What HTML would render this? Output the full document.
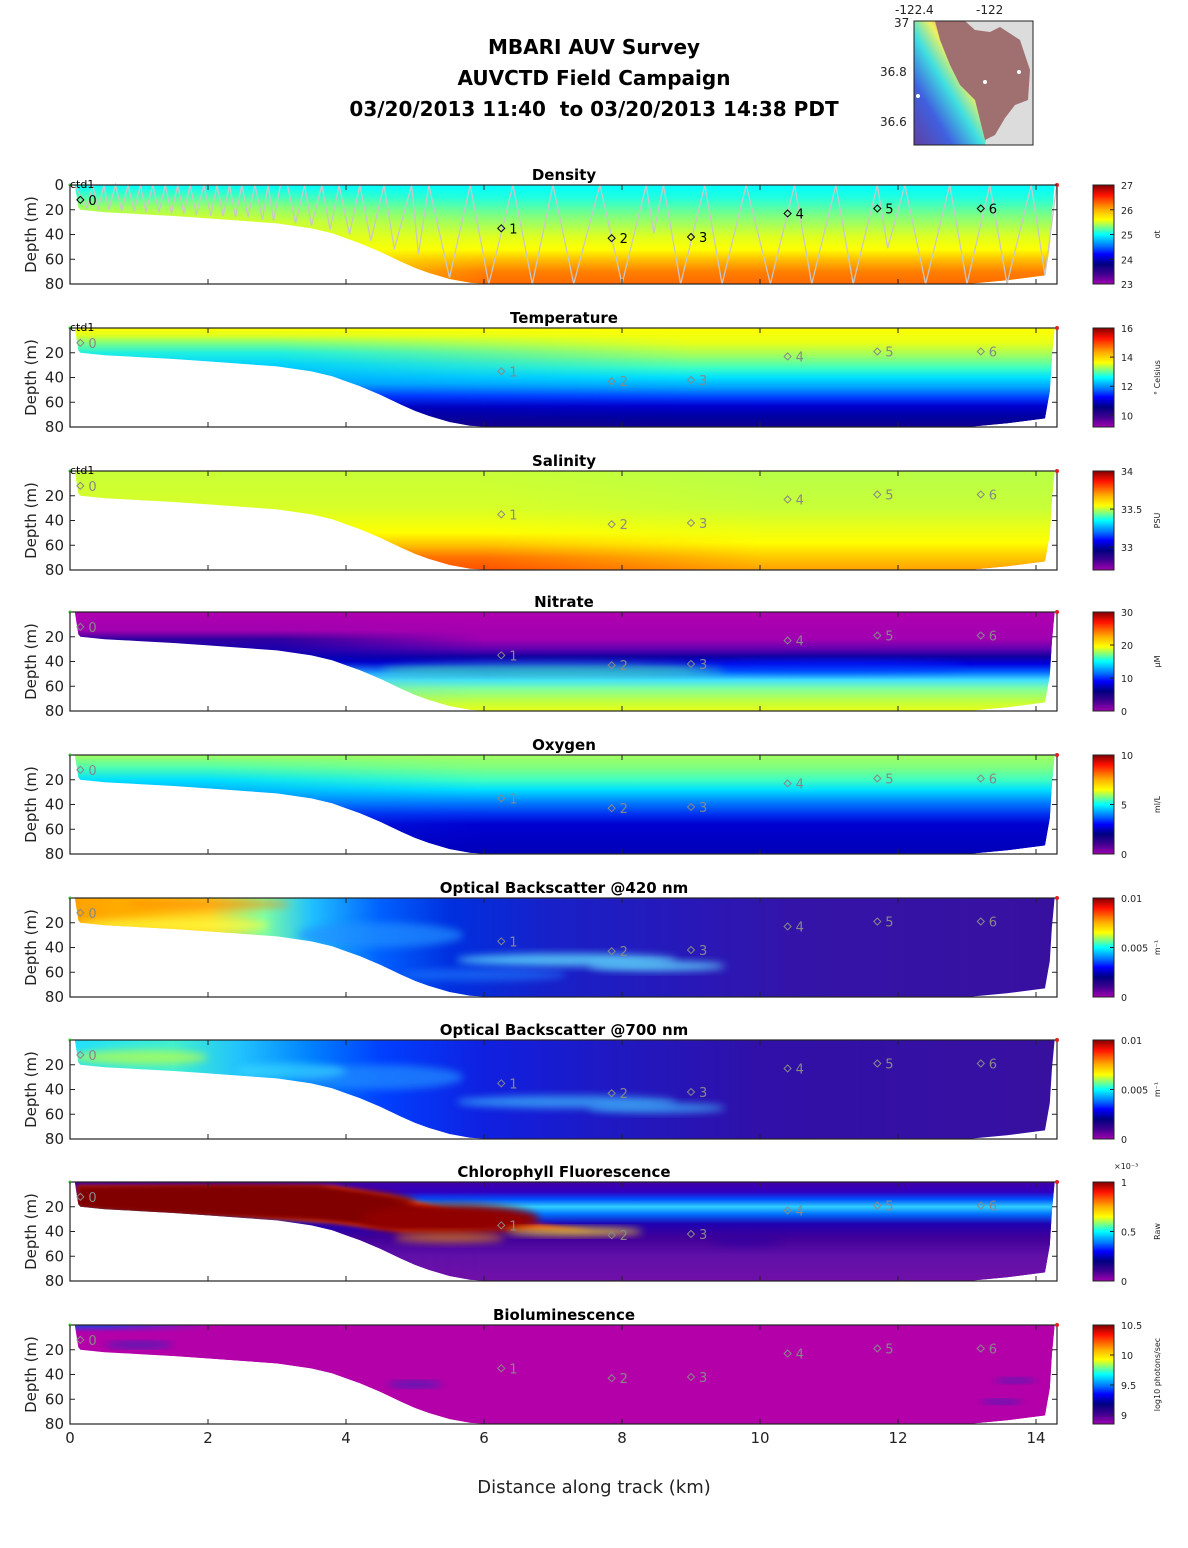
<!DOCTYPE html>
<html><head><meta charset="utf-8"><style>
body{margin:0;background:#fff;}
svg{display:block;font-family:"DejaVu Sans","Liberation Sans",sans-serif;}
</style></head><body>
<svg id="fig" xmlns="http://www.w3.org/2000/svg" width="1188" height="1548" viewBox="0 0 1188 1548">
<defs>
<filter id="blur" x="-50%" y="-50%" width="200%" height="200%"><feGaussianBlur stdDeviation="4"/></filter>
<filter id="blur2" x="-50%" y="-50%" width="200%" height="200%"><feGaussianBlur stdDeviation="2"/></filter>
<linearGradient id="cbar" x1="0" y1="0" x2="0" y2="1">
<stop offset="0" stop-color="#800000"/><stop offset="0.1" stop-color="#ff1000"/><stop offset="0.25" stop-color="#ffb000"/><stop offset="0.35" stop-color="#ffff00"/><stop offset="0.5" stop-color="#00ffff"/><stop offset="0.62" stop-color="#0070ff"/><stop offset="0.7" stop-color="#0000ff"/><stop offset="0.8" stop-color="#000080"/><stop offset="0.9" stop-color="#400090"/><stop offset="1" stop-color="#a000b0"/>
</linearGradient>
<linearGradient id="mapg" x1="0" y1="1" x2="1" y2="0">
<stop offset="0" stop-color="#6040a0"/><stop offset="0.25" stop-color="#4060e0"/><stop offset="0.45" stop-color="#40e0e0"/><stop offset="0.6" stop-color="#f0f060"/><stop offset="0.75" stop-color="#f06040"/><stop offset="1" stop-color="#a06868"/>
</linearGradient>
</defs>
<g font-weight="bold" font-size="20" text-anchor="middle" fill="#000">
<text x="594" y="54">MBARI AUV Survey</text>
<text x="594" y="85">AUVCTD Field Campaign</text>
<text x="594" y="116" xml:space="preserve">03/20/2013 11:40  to 03/20/2013 14:38 PDT</text>
</g>
<g>
<rect x="914" y="21" width="119" height="124" fill="#dcdcdc"/>
<polygon points="914,21 945,21 960,60 975,85 985,100 990,120 985,145 914,145" fill="url(#mapg)"/>
<polygon points="935,21 965,21 975,30 990,32 1000,27 1020,40 1030,70 1028,100 1015,105 1005,118 995,135 985,140 980,120 975,100 960,85 950,65 940,40" fill="#a07070"/>
<circle cx="1019" cy="72" r="2" fill="#fff"/><circle cx="985" cy="82" r="2" fill="#fff"/><circle cx="918" cy="96" r="2" fill="#fff"/>
<rect x="914" y="21" width="119" height="124" fill="none" stroke="#222" stroke-width="1"/>
<g font-size="12" fill="#222">
<text x="895" y="14">-122.4</text>
<text x="976" y="14">-122</text>
<text x="894" y="27">37</text>
<text x="880" y="76">36.8</text>
<text x="880" y="126">36.6</text>
</g>
</g>
<g id="panels"></g>
<text x="594" y="1493" text-anchor="middle" font-size="18" fill="#222">Distance along track (km)</text>
</svg>
<script>
const NS="http://www.w3.org/2000/svg";
// ---- data ----
const panelTitles=["Density","Temperature","Salinity","Nitrate","Oxygen","Optical Backscatter @420 nm","Optical Backscatter @700 nm","Chlorophyll Fluorescence","Bioluminescence"];
const panelUnits=["σt","° Celsius","PSU","μM","ml/L","m⁻¹","m⁻¹","Raw","log10 photons/sec"];
const xTicks=[0,2,4,6,8,10,12,14];
const bathyKm=[14.27,14.23,14.2,14.13,13.58,13.0,6.1,5.8,5.5,5.2,5.0,4.8,4.5,4.2,4.0,3.8,3.5,3.0,2.5,2.0,1.5,1.0,0.5,0.15,0.12,0.07];
const bathyDepth=[0,24,51,73,77,80,80,79,76,71,67,62,54,47,43,39,35,31,29,27,25,23.5,22,20,18,0];
const stationKm=[0.15,6.25,7.85,9.0,10.4,11.7,13.2];
const stationDepth=[12,35,43,42,23,19,19];
const stationLabel=["0","1","2","3","4","5","6"];
const yoyoKm=[0.07,0.25,0.33,0.41,0.49,0.56,0.66,0.75,0.84,0.93,1.02,1.1,1.2,1.29,1.38,1.47,1.56,1.65,1.74,1.83,1.94,2.04,2.13,2.22,2.31,2.4,2.49,2.58,2.68,2.79,2.87,2.95,3.05,3.15,3.27,3.4,3.5,3.65,3.77,3.9,4.05,4.2,4.36,4.55,4.7,4.95,5.05,5.2,5.5,5.8,6.07,6.42,6.7,7.0,7.3,7.68,8.0,8.35,8.46,8.6,8.85,9.2,9.45,9.8,10.15,10.5,10.75,11.1,11.35,11.7,11.85,12.1,12.4,12.75,13.0,13.33,13.58,13.93,14.13,14.3];
const yoyoDepth=[0,19,0,20,0,20,0,21,0,21,0,22,0,22,0,23,0,23,0,24,0,25,0,25,0,26,0,26,0,28,0,29,0,0,31,0,33,0,36,0,40,0,45,0,52,0,56,0,75,0,80,0,80,0,80,0,80,0,39,0,80,0,80,0,80,0,80,0,80,0,51,0,80,0,80,0,80,0,73,0];
const leftStops=[
 [[0,"#00ffff"],[8,"#40ffc0"],[18,"#a0ff60"],[30,"#e0ff20"],[80,"#ffff00"]],
 [[0,"#ffff00"],[6,"#e0ff20"],[12,"#80ff80"],[20,"#20f0e0"],[30,"#00d0ff"],[45,"#00a0ff"],[55,"#0030ff"],[65,"#0000b0"],[80,"#18008a"]],
 [[0,"#c8ff38"],[30,"#d8ff28"],[50,"#ffff00"],[60,"#ffc000"],[70,"#ff7000"],[80,"#ff5000"]],
 [[0,"#b000b0"],[15,"#a000b0"],[22,"#3000a0"],[40,"#0000c0"],[50,"#40d0ff"],[80,"#e0ff20"]],
 [[0,"#a0ff60"],[10,"#50ffb0"],[20,"#00e0ff"],[38,"#0080ff"],[48,"#0030f0"],[80,"#0000b8"]],
 null,null,
 [[0,"#4000a8"],[8,"#3000c0"],[14,"#0050ff"],[20,"#30d0ff"],[26,"#0070ff"],[34,"#2000b0"],[45,"#400098"],[60,"#6010a8"],[80,"#7010a8"]],
 [[0,"#2040e0"],[6,"#b400a8"],[80,"#b400a8"]]
];
const rightStops=[
 [[0,"#00ffff"],[10,"#20ffe0"],[25,"#80ff80"],[42,"#e0ff20"],[52,"#ffff00"],[60,"#ffc000"],[70,"#ff8000"],[80,"#ff6800"]],
 [[0,"#ffff00"],[12,"#e8ff18"],[22,"#a0ff60"],[32,"#40ffc0"],[40,"#00e0ff"],[48,"#00a0ff"],[56,"#0040ff"],[63,"#0000d0"],[72,"#0000a0"],[80,"#100090"]],
 [[0,"#b8ff48"],[30,"#c8ff38"],[45,"#e8ff18"],[58,"#ffff00"],[68,"#ffd000"],[80,"#ffa000"]],
 [[0,"#b000b0"],[22,"#a000b0"],[30,"#6000b0"],[36,"#1000a0"],[42,"#0000e0"],[48,"#0060ff"],[55,"#40e0ff"],[62,"#80ffa0"],[72,"#c0ff40"],[80,"#e8ff18"]],
 [[0,"#a0ff60"],[10,"#80ff80"],[20,"#40ffc0"],[28,"#00e0ff"],[38,"#0080ff"],[48,"#0030f0"],[56,"#0000d0"],[80,"#0000b8"]],
 null,null,
 [[0,"#4000a8"],[8,"#3000c0"],[14,"#0050ff"],[20,"#30d0ff"],[26,"#0070ff"],[34,"#2000b0"],[45,"#400098"],[60,"#6010a8"],[80,"#7010a8"]],
 [[0,"#b400a8"],[80,"#b400a8"]]
];
const blendKm=[[2,6],[3,9],[6,10],[3,6],[2,6],null,null,[3,6],[0.5,2]];
// horizontal colour stops for backscatter panels: [km, colour]
const obs420Stops=[[0,"#ffa000"],[1.0,"#ffb000"],[2.0,"#ffd020"],[2.8,"#80ffa0"],[3.5,"#20c0ff"],[4.5,"#0060ff"],[5.5,"#0030e0"],[7,"#1820c8"],[9,"#2818b8"],[10.5,"#3414a8"],[14.3,"#3810a0"]];
const obs700Stops=[[0,"#20e0ff"],[1.5,"#40f0d0"],[2.5,"#20c0ff"],[3.5,"#0080ff"],[4.5,"#0040ff"],[6,"#1020e0"],[8,"#2018c0"],[10,"#3010a8"],[14.3,"#3810a0"]];
// blobs
const blobPanel=[5,5,5,5,5,5,6,6,6,6,6,7,7,7,7,7,8,8,8,8,3,3];
const blobKm=[4.5,7.2,8.5,6.0,1.5,2.0,4.5,7.2,8.5,1.0,3.2,2.4,5.5,7.3,5.5,9.8,1.0,5.0,13.7,13.5,7,11];
const blobDepth=[30,50,55,62,22,5,30,50,55,14,25,16,30,40,45,47,16,48,45,62,47,44];
const blobRx=[1.2,1.6,1.0,1.2,1.4,1.2,1.2,1.6,1.0,1.0,0.8,2.6,1.3,1.0,0.8,0.5,0.5,0.4,0.3,0.3,2.5,2.0];
const blobRy=[10,5,4,5,6,4,10,5,4,6,6,12,12,3,4,5,2,2,1.5,1.5,6,5];
const blobColor=["#2090ff","#60e0ff","#60e0ff","#2080ff","#ffff40","#ff8000","#2090ff","#40c0ff","#40c0ff","#c0ff40","#40e0ff","#800000","#900000","#ffe020","#ffa000","#3000a0","#1030c0","#1030c0","#1030c0","#1030c0","#60ffa0","#0030ff"];
const blobOpacity=[0.7,0.8,0.8,0.6,0.7,0.6,0.7,0.7,0.7,0.7,0.6,1,1,0.9,0.6,0.7,0.8,0.8,0.8,0.8,0.5,0.5];
const cbTicks=[[27,26,25,24,23],[16,14,12,10],[34,33.5,33],[30,20,10,0],[10,5,0],[0.01,0.005,0],[0.01,0.005,0],[1,0.5,0],[10.5,10,9.5,9]];
const cbMin=[23,9.2,32.7,0,0,0,0,0,8.85];
const cbMax=[27,16,34,30,10,0.01,0.01,1,10.5];
// ---- layout ----
const tops=[185,328,471,612,755,898,1040,1182,1325];
const PH=99, X0=70, PX=69, XR=1057;
const xk=k=>X0+PX*k;
const yd=(t,d)=>t+d*PH/80;
const root=document.getElementById('panels');
const defs=document.querySelector('defs');
function el(tag,attrs,parent){const e=document.createElementNS(NS,tag);for(const k in attrs)e.setAttribute(k,attrs[k]);(parent||root).appendChild(e);return e;}
function grad(id,t,stops){const g=el('linearGradient',{id:id,gradientUnits:'userSpaceOnUse',x1:0,y1:t,x2:0,y2:t+PH},defs);
 stops.forEach(s=>el('stop',{offset:s[0]/80,'stop-color':s[1]},g));}
function hgrad(id,stops){const g=el('linearGradient',{id:id,gradientUnits:'userSpaceOnUse',x1:xk(0),y1:0,x2:xk(14.3),y2:0},defs);
 stops.forEach(s=>el('stop',{offset:s[0]/14.3,'stop-color':s[1]},g));}
tops.forEach((t,p)=>{
 const g=el('g',{});
 
 
 const cp=el('clipPath',{id:'clip'+p},defs);
 const pts=bathyKm.map((k,i)=>xk(k)+','+yd(t,bathyDepth[i])).join(' ');
 el('polygon',{points:pts},cp);
 const fg=el('g',{'clip-path':'url(#clip'+p+')'},g);
 
 
 if(leftStops[p]){
  grad('gl'+p,t,leftStops[p]);grad('gr'+p,t,rightStops[p]);
  const mg=el('linearGradient',{id:'mg'+p,gradientUnits:'userSpaceOnUse',x1:xk(blendKm[p][0]),y1:0,x2:xk(blendKm[p][1]),y2:0},defs);
  el('stop',{offset:0,'stop-color':'#000'},mg);el('stop',{offset:1,'stop-color':'#fff'},mg);
  const mk=el('mask',{id:'mask'+p,maskUnits:'userSpaceOnUse',x:0,y:0,width:1188,height:1548},defs);
  el('rect',{x:0,y:t-5,width:1188,height:PH+10,fill:'url(#mg'+p+')'},mk);
  el('rect',{x:X0,y:t,width:XR-X0,height:PH,fill:'url(#gl'+p+')'},fg);
  el('rect',{x:X0,y:t,width:XR-X0,height:PH,fill:'url(#gr'+p+')',mask:'url(#mask'+p+')'},fg);
 } else {
  hgrad('gh'+p,p===5?obs420Stops:obs700Stops);
  el('rect',{x:X0,y:t,width:XR-X0,height:PH,fill:'url(#gh'+p+')'},fg);
 }
 if(p===7){
  const wedge=el('polygon',{points:[[0.1,3],[3.8,3],[4.6,10],[5.5,22],[6.6,33],[7.6,39],[6.0,38],[4.8,40],[3.8,33],[3.0,30],[0.15,19]].map(a=>xk(a[0])+','+yd(t,a[1])).join(' '),fill:'#ff4000',filter:'url(#blur2)'},fg);
  
  
  el('polygon',{points:[[0.1,3],[3.6,3],[4.3,10],[5.2,22],[6.3,32],[5.8,35],[4.6,37],[3.6,31],[0.15,19]].map(a=>xk(a[0])+','+yd(t,a[1])).join(' '),fill:'#800000',filter:'url(#blur2)'},fg);
 }
 blobPanel.forEach((bp,i)=>{ if(bp!==p) return;
  const e=el('ellipse',{cx:xk(blobKm[i]),cy:yd(t,blobDepth[i]),rx:blobRx[i]*PX,ry:blobRy[i]*PH/80,fill:blobColor[i],opacity:blobOpacity[i],filter:'url(#blur)'},fg);
  
  
 });
 if(p===0){
  const tr=el('polyline',{points:yoyoKm.map((k,i)=>xk(k)+','+yd(t,yoyoDepth[i])).join(' '),fill:'none',stroke:'#c8c8c8','stroke-width':1.3});
  g.appendChild(tr);
  
  
 }
 const sc=p===0?'#000':'#888';
 stationKm.forEach((k,i)=>{
  const cx=xk(k),cy=yd(t,stationDepth[i]);
  const c=el('polygon',{points:(cx-3.5)+','+cy+' '+cx+','+(cy-3.5)+' '+(cx+3.5)+','+cy+' '+cx+','+(cy+3.5),fill:'none',stroke:sc,'stroke-width':1},g);
  
  
  const tx=el('text',{x:cx+8,y:cy+5,'font-size':13,fill:sc},g);
  tx.textContent=stationLabel[i];
  
  
 });
 const fr=el('rect',{x:X0,y:t,width:XR-X0,height:PH,fill:'none',stroke:'#222','stroke-width':1.2},g);
 
 
 el('circle',{cx:XR,cy:t,r:2,fill:'#e02020'},g);
 el('circle',{cx:X0,cy:t,r:1.5,fill:'#30c030'},g);
 if(p<3){const c=el('text',{x:X0,y:t+3,'font-size':11,fill:'#000'},g);c.textContent='ctd1';
  
  }
 xTicks.forEach(v=>{el('line',{x1:xk(v),x2:xk(v),y1:t,y2:t+5,stroke:'#222'},g);el('line',{x1:xk(v),x2:xk(v),y1:t+PH,y2:t+PH-5,stroke:'#222'},g);
  if(p===8){const tl=el('text',{x:xk(v),y:t+PH+19,'font-size':15,'text-anchor':'middle',fill:'#222'},g);tl.textContent=v;
   
   }});
 const yt=p===0?[0,20,40,60,80]:[20,40,60,80];
 yt.forEach(v=>{el('line',{x1:X0,x2:X0+5,y1:yd(t,v),y2:yd(t,v),stroke:'#222'},g);el('line',{x1:XR,x2:XR-5,y1:yd(t,v),y2:yd(t,v),stroke:'#222'},g);
  const tl=el('text',{x:X0-6,y:yd(t,v)+5,'font-size':15,'text-anchor':'end',fill:'#222'},g);tl.textContent=v;
  
  });
 const ya=el('text',{x:0,y:0,'font-size':15,'text-anchor':'middle',fill:'#222',transform:'translate(36,'+(t+PH/2)+') rotate(-90)'},g);
 ya.textContent='Depth (m)';
 
 
 const ti=el('text',{x:564,y:t-5,'font-size':15,'font-weight':'bold','text-anchor':'middle',fill:'#000'},g);
 ti.textContent=panelTitles[p];
 
 
 const cb=el('rect',{x:1093,y:t,width:21,height:PH,fill:'url(#cbar)',stroke:'#222','stroke-width':1},g);
 
 
 cbTicks[p].forEach(v=>{const yy=t+PH*(cbMax[p]-v)/(cbMax[p]-cbMin[p]);
  el('line',{x1:1114,x2:1110,y1:yy,y2:yy,stroke:'#222'},g);
  const tl=el('text',{x:1121,y:yy+4,'font-size':9.5,fill:'#222'},g);tl.textContent=v;
  
  });
 const un=el('text',{x:0,y:0,'font-size':8,'text-anchor':'middle',fill:'#222',transform:'translate(1160,'+(t+PH/2)+') rotate(-90)'},g);
 un.textContent=panelUnits[p];
 
 
 if(p===7){const ex=el('text',{x:1114,y:t-13,'font-size':8,fill:'#222'},g);ex.textContent='×10⁻³';
  
  }
});
</script>
</body></html>
